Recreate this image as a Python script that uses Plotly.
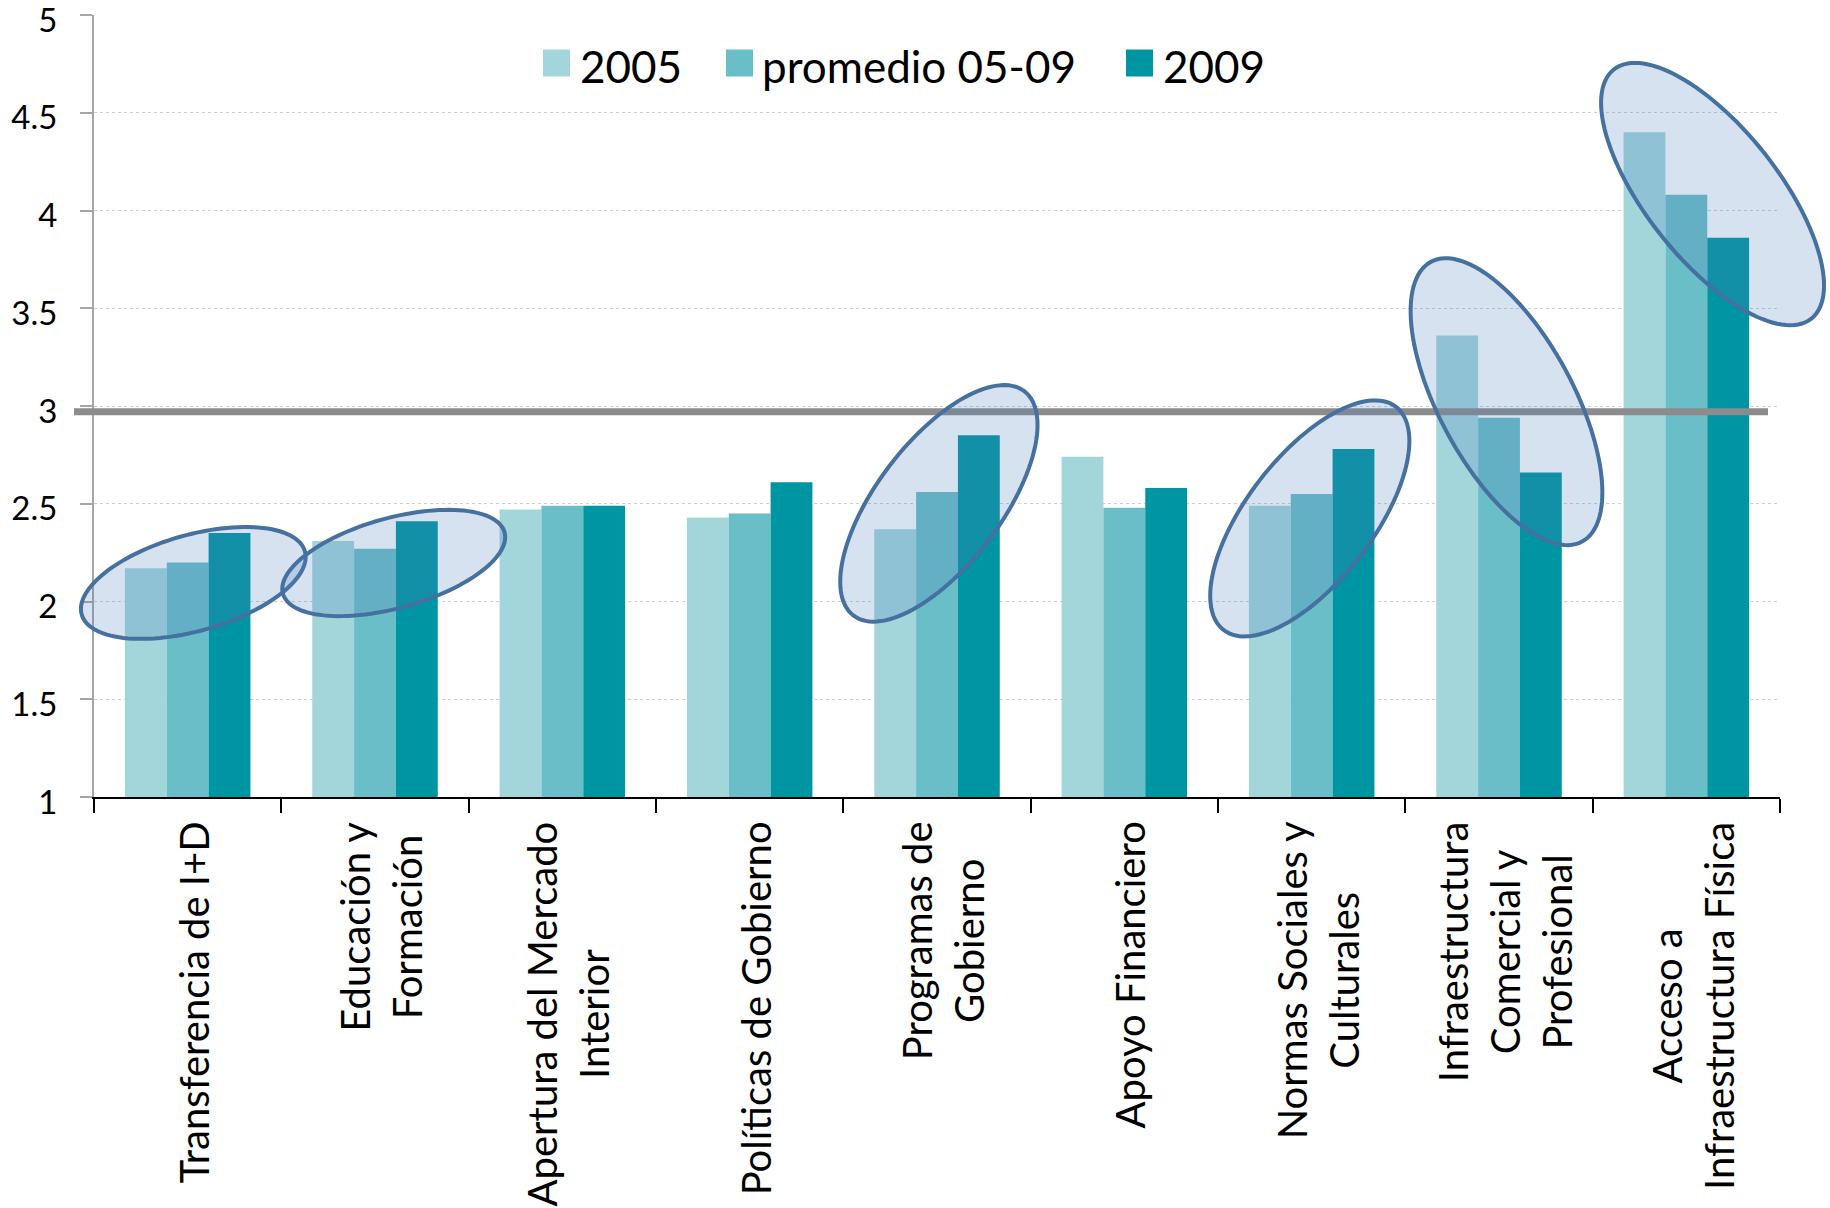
import math
import plotly.graph_objects as go

# ---------------- data ----------------
categories = [
    "Transferencia de I+D",
    "Educación y Formación",
    "Apertura del Mercado Interior",
    "Políticas de Gobierno",
    "Programas de Gobierno",
    "Apoyo Financiero",
    "Normas Sociales y Culturales",
    "Infraestructura Comercial y Profesional",
    "Acceso a Infraestructura Física",
]
category_labels = [
    "Transferencia de I+D",
    "Educación y<br>Formación",
    "Apertura del Mercado<br>Interior",
    "Políticas de Gobierno",
    "Programas de<br>Gobierno",
    "Apoyo Financiero",
    "Normas Sociales y<br>Culturales",
    "Infraestructura<br>Comercial y<br>Profesional",
    "Acceso a<br>Infraestructura Física",
]
series_names = ["2005", "promedio 05-09", "2009"]
values_2005 = [2.17, 2.31, 2.47, 2.43, 2.37, 2.74, 2.49, 3.36, 4.40]
values_prom = [2.20, 2.27, 2.49, 2.45, 2.56, 2.48, 2.55, 2.94, 4.08]
values_2009 = [2.35, 2.41, 2.49, 2.61, 2.85, 2.58, 2.78, 2.66, 3.86]
reference_level = 2.97
y_ticks = [1, 1.5, 2, 2.5, 3, 3.5, 4, 4.5, 5]

# highlight ellipses: (category index centre, value centre, semi-axis a px, semi-axis b px, angle deg)
highlights = [
    (0.03, 2.095, 116, 48, 15.8),
    (1.10, 2.197, 115, 45, 15.5),
    (4.01, 2.502, 141, 62, 52.7),
    (5.99, 2.425, 141, 63, 52.3),
    (7.04, 3.022, 159, 67, -61.6),
    (8.14, 4.084, 159, 66, -51.6),
]

colors = ["#A3D6DB", "#6ABEC8", "#0095A2"]
FONT = "Lato, Calibri, sans-serif"

W, H = 1830, 1208
ML, MR, MT, MB = 94, 50, 15, 411
PW, PH = W - ML - MR, H - MT - MB
Y0, Y1 = 1, 5

# legend layout (pixels in figure)
LEG_SQ_X = [543, 726, 1126]
LEG_TX_X = [578, 760, 1161]
LEG_Y = 63
LEG_SQ = 27


def px_to_paper_x(px):
    return (px - ML) / PW


def px_to_paper_y(py):
    return 1 - (py - MT) / PH


fig = go.Figure()
for name, vals, col in zip(series_names, [values_2005, values_prom, values_2009], colors):
    fig.add_trace(go.Bar(x=categories, y=vals, name=name,
                         marker=dict(color=col, line=dict(width=0)), showlegend=False))

shapes = []
annotations = []

# legend (manual, to match the large square keys)
for name, col, sx, tx in zip(series_names, colors, LEG_SQ_X, LEG_TX_X):
    shapes.append(dict(type="rect", xref="paper", yref="paper",
                       x0=px_to_paper_x(sx), x1=px_to_paper_x(sx + LEG_SQ),
                       y0=px_to_paper_y(LEG_Y - LEG_SQ / 2), y1=px_to_paper_y(LEG_Y + LEG_SQ / 2),
                       fillcolor=col, line=dict(width=0), layer="above"))
    annotations.append(dict(x=px_to_paper_x(tx), xref="paper", y=px_to_paper_y(LEG_Y + 3), yref="paper",
                            text=name, xanchor="left", yanchor="middle", showarrow=False,
                            font=dict(family=FONT, size=44, color="black")))

# reference line
shapes.append(dict(type="line", xref="paper", yref="y", x0=px_to_paper_x(74), x1=px_to_paper_x(1768),
                   y0=reference_level, y1=reference_level,
                   line=dict(color="#8C8C8C", width=7), layer="above"))

ncat = len(categories)
for ci, vc, a, b, ang in highlights:
    cx = (ci + 0.5) / ncat * PW
    cy = (vc - Y0) / (Y1 - Y0) * PH
    th = math.radians(ang)
    pts = []
    for k in range(0, 121):
        t = 2 * math.pi * k / 120
        ex = cx + a * math.cos(t) * math.cos(th) - b * math.sin(t) * math.sin(th)
        ey = cy + a * math.cos(t) * math.sin(th) + b * math.sin(t) * math.cos(th)
        pts.append((ex / PW, ey / PH))
    path = "M " + " L ".join(f"{x:.5f},{y:.5f}" for x, y in pts) + " Z"
    shapes.append(dict(type="path", xref="paper", yref="paper", path=path,
                       fillcolor="rgba(79,129,189,0.23)",
                       line=dict(color="#45709F", width=4), layer="above"))

for cat, lab in zip(categories, category_labels):
    annotations.append(dict(x=cat, xref="x", y=-0.029, yref="paper", text=lab, xshift=6,
                            textangle=-90, xanchor="center", yanchor="top", align="center",
                            showarrow=False, font=dict(family=FONT, size=40, color="black")))

fig.update_layout(
    template="none",
    width=W, height=H,
    margin=dict(l=ML, r=MR, t=MT, b=MB, pad=0),
    paper_bgcolor="white", plot_bgcolor="white",
    showlegend=False,
    barmode="group", bargap=0.33, bargroupgap=0,
    shapes=shapes, annotations=annotations,
    xaxis=dict(type="category", showticklabels=False, ticks="outside", tickson="boundaries",
               ticklen=14, tickwidth=2, tickcolor="black", showline=True, linecolor="black",
               linewidth=2, showgrid=False, zeroline=False, range=[-0.5, ncat - 0.5],
               automargin=False),
    yaxis=dict(range=[Y0, Y1], tickvals=y_ticks, ticktext=[f"{v:g}" for v in y_ticks],
               ticks="outside", ticklen=12, tickwidth=2, tickcolor="#A6A6A6",
               showline=True, linecolor="#A6A6A6", linewidth=2,
               showgrid=True, gridcolor="#CFCFCF", gridwidth=1, griddash="dot",
               zeroline=False, ticklabelstandoff=16, ticklabeloverflow="allow",
               ticklabelshift=5, automargin=False,
               tickfont=dict(family=FONT, size=33, color="black")),
)

fig.write_html("out.html", config={"displayModeBar": False},
               post_script="document.body.style.margin='0px';")
